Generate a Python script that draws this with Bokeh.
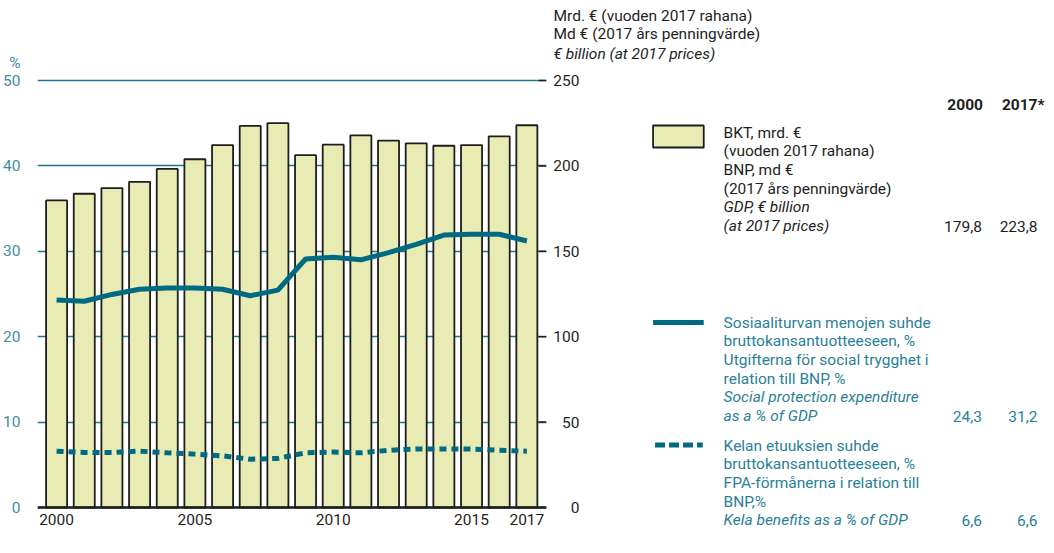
from bokeh.plotting import figure
from bokeh.models import Range1d, FixedTicker, ColumnDataSource, Title
from bokeh.layouts import row
from bokeh.core.properties import value
from bokeh.embed import file_html
from bokeh.resources import INLINE

# ---------------- data ----------------
years = list(range(2000, 2018))
gdp_bn = [179.8, 183.7, 187.0, 190.7, 198.2, 203.9, 212.2, 223.4, 225.0,
          206.3, 212.4, 217.9, 214.8, 213.2, 211.8, 212.2, 217.3, 223.8]
social_pct = [24.3, 24.15, 24.95, 25.55, 25.7, 25.7, 25.55, 24.8, 25.45,
              29.1, 29.3, 29.0, 29.85, 30.8, 31.9, 32.0, 32.0, 31.2]
kela_pct = [6.6, 6.45, 6.45, 6.6, 6.4, 6.25, 6.05, 5.65, 5.75,
            6.4, 6.5, 6.4, 6.7, 6.85, 6.85, 6.85, 6.7, 6.6]
x_ticks = [2000, 2005, 2010, 2015, 2017]
left_ticks = [0, 10, 20, 30, 40, 50]
right_ticks = [0, 50, 100, 150, 200, 250]

unit_left = "%"
unit_right = ["Mrd. € (vuoden 2017 rahana)", "Md € (2017 års penningvärde)",
              "€ billion (at 2017 prices)"]
col_heads = ["2000", "2017*"]
gdp_text = ["BKT, mrd. €", "(vuoden 2017 rahana)", "BNP, md €",
            "(2017 års penningvärde)", "GDP, € billion", "(at 2017 prices)"]
gdp_vals = ["179,8", "223,8"]
social_text = ["Sosiaaliturvan menojen suhde", "bruttokansantuotteeseen, %",
               "Utgifterna för social trygghet i", "relation till BNP, %",
               "Social protection expenditure", "as a % of GDP"]
social_vals = ["24,3", "31,2"]
kela_text = ["Kelan etuuksien suhde", "bruttokansantuotteeseen, %",
             "FPA-förmånerna i relation till", "BNP,%",
             "Kela benefits as a % of GDP"]
kela_vals = ["6,6", "6,6"]

# ---------------- style / layout ----------------
FONT = "Roboto"
FS = "15.5px"
TEAL = "#006a83"
TEAL_TXT = "#2a7f99"
TEAL_AX = "#3f8ca5"
GRID = "#1b7690"
BAR_FILL = "#e8ebb4"
DARK = "#1e1e1e"

H = 553
ZERO_Y = 507            # pixel row of value 0
TOP = 62                # frame top (both panels, aligned by the row)
BOT = 24                # bottom border
FRAME_BOT = H - BOT
PX_PER_PCT = 427 / 50
PX_PER_BN = 427 / 250
W1 = 550
W2 = 496
X0, X1 = 1999.31, 2017.71
UNIT_POS = 52           # where the "%" unit sits on the left axis

src = ColumnDataSource(dict(year=years, gdp=gdp_bn, social=social_pct, kela=kela_pct))

# ---------------- chart ----------------
pct_lo = (ZERO_Y - FRAME_BOT) / PX_PER_PCT
pct_hi = (ZERO_Y - TOP) / PX_PER_PCT
p1 = figure(width=W1, height=H, x_range=Range1d(X0, X1),
            y_range=Range1d(pct_lo, pct_hi), output_backend="svg",
            toolbar_location=None, min_border_left=36, min_border_right=W1 - 546,
            min_border_top=TOP, min_border_bottom=BOT,
            outline_line_color=None, background_fill_color="white",
            border_fill_color="white")
p1.extra_y_ranges = {"bn": Range1d(pct_lo * 5, pct_hi * 5)}

p1.xgrid.visible = False
p1.ygrid.ticker = FixedTicker(ticks=left_ticks)
p1.ygrid.grid_line_color = GRID
p1.ygrid.grid_line_width = 1.3

xa = p1.xaxis[0]
xa.fixed_location = 0
xa.ticker = FixedTicker(ticks=x_ticks)
xa.axis_line_color = DARK
xa.axis_line_width = 2.5
xa.major_tick_line_color = None
xa.minor_tick_line_color = None
xa.major_label_standoff = 0
xa.major_label_text_font = FONT
xa.major_label_text_font_size = FS
xa.major_label_text_color = DARK

ya = p1.yaxis[0]
ya.ticker = FixedTicker(ticks=left_ticks + [UNIT_POS])
ya.major_label_overrides = {UNIT_POS: unit_left}
ya.axis_line_color = None
ya.major_tick_line_color = None
ya.minor_tick_line_color = None
ya.major_label_standoff = 11
ya.major_label_text_font = FONT
ya.major_label_text_font_size = FS
ya.major_label_text_color = TEAL_AX

p1.vbar(x="year", top="gdp", width=0.76, source=src, y_range_name="bn",
        fill_color=BAR_FILL, line_color=DARK, line_width=1.8)
p1.line(x="year", y="social", source=src, line_color=TEAL, line_width=5)
p1.line(x="year", y="kela", source=src, line_color=TEAL, line_width=5,
        line_dash="7 5")
# inner tick marks of the euro scale at the right edge
tick_len = 8 * (X1 - X0) / 510
p1.segment(x0=[X1 - tick_len] * len(right_ticks), x1=[X1] * len(right_ticks),
           y0=right_ticks, y1=right_ticks, y_range_name="bn",
           line_color=DARK, line_width=1.5)

# ---------------- euro axis + legend panel ----------------
F2_LEFT = W1 + 32
p2 = figure(width=W2, height=H, x_range=Range1d(F2_LEFT, W1 + W2),
            y_range=Range1d((ZERO_Y - FRAME_BOT) / PX_PER_BN, (ZERO_Y - TOP) / PX_PER_BN),
            output_backend="svg", toolbar_location=None, x_axis_location=None,
            min_border_left=32, min_border_right=0, min_border_top=TOP,
            min_border_bottom=BOT, outline_line_color=None,
            background_fill_color="white", border_fill_color="white")
p2.extra_y_ranges = {"pxy": Range1d(FRAME_BOT, TOP)}
p2.xgrid.visible = False
p2.ygrid.visible = False
a2 = p2.yaxis[0]
a2.ticker = FixedTicker(ticks=right_ticks)
a2.axis_line_color = None
a2.major_tick_line_color = None
a2.minor_tick_line_color = None
a2.major_tick_out = 0
a2.major_label_standoff = 6
a2.major_label_text_font = FONT
a2.major_label_text_font_size = FS
a2.major_label_text_color = DARK

# unit header (nearest to frame added first)
p2.add_layout(Title(text=unit_right[2], align="left", offset=-32, standoff=0,
                    text_font=FONT, text_font_size=FS, text_font_style="italic",
                    text_color=DARK), "above")
p2.add_layout(Title(text=unit_right[0] + "\n" + unit_right[1], align="left",
                    offset=-32, standoff=0, text_font=FONT, text_font_size=FS,
                    text_font_style="normal", text_color=DARK), "above")

def txt(xs, ys, ss, color=DARK, style="normal", align="left"):
    p2.text(x=xs, y=ys, text=ss, y_range_name="pxy", text_font=value(FONT),
            text_font_size=value(FS), text_color=color, text_font_style=style,
            text_align=align, text_baseline="middle")

LS = 18.7
txt([982, 1044], [104, 104], col_heads, style="bold", align="right")

# GDP item
p2.quad(left=650, right=701, top=125, bottom=147, y_range_name="pxy",
        fill_color=BAR_FILL, line_color=DARK, line_width=1.8)
txt([721] * 4, [132 + LS * i for i in range(4)], gdp_text[:4])
txt([721] * 2, [132 + LS * i for i in range(4, 6)], gdp_text[4:], style="italic")
txt([981, 1037], [132 + LS * 5] * 2, gdp_vals, align="right")

# social expenditure item
p2.line(x=[650, 701], y=[322, 322], y_range_name="pxy", line_color=TEAL, line_width=5)
txt([721] * 4, [322 + LS * i for i in range(4)], social_text[:4], TEAL_TXT)
txt([721] * 2, [322 + LS * i for i in range(4, 6)], social_text[4:], TEAL_TXT, style="italic")
txt([981, 1037], [322 + LS * 5] * 2, social_vals, TEAL_TXT, align="right")

# Kela item
p2.line(x=[652, 700], y=[444.5, 444.5], y_range_name="pxy", line_color=TEAL,
        line_width=5, line_dash="10 4")
txt([721] * 4, [445 + LS * i for i in range(4)], kela_text[:4], TEAL_TXT)
txt([721], [445 + LS * 4], kela_text[4:], TEAL_TXT, style="italic")
txt([981, 1037], [445 + LS * 4] * 2, kela_vals, TEAL_TXT, align="right")

layout = row(p1, p2)
open("out.html", "w").write(file_html(layout, INLINE))
